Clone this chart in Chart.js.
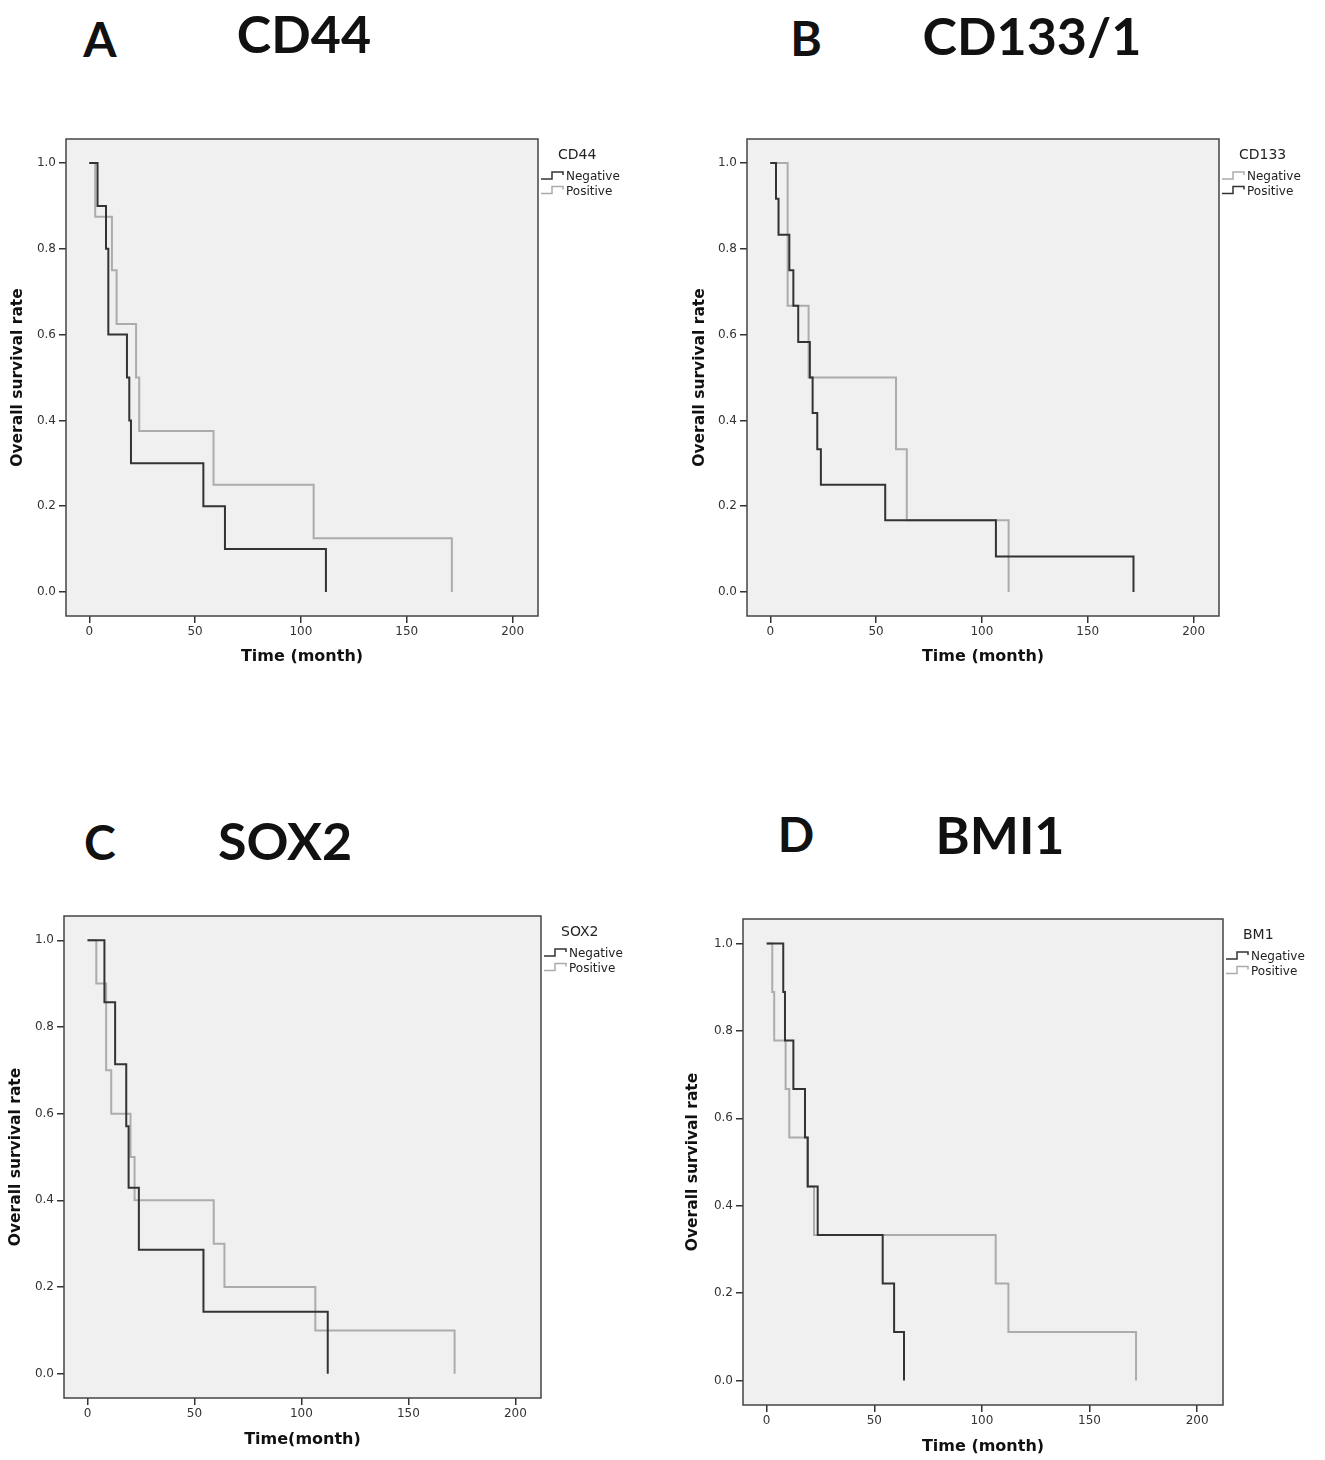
<!DOCTYPE html>
<html>
<head>
<meta charset="utf-8">
<script src="https://cdn.jsdelivr.net/npm/chart.js@4.4.1/dist/chart.umd.min.js"></script>
<style>
    body { margin: 0; background: #fff; }
    #page { position: relative; width: 1325px; height: 1460px; overflow: hidden; background: #fff; }
    .panel-canvas { position: absolute; }
    .heading {
        position: absolute;
        font-family: Lato, "Open Sans", sans-serif;
        font-weight: 700;
        color: #111;
        line-height: 1;
        white-space: nowrap;
        transform: translate(-50%, -50%);
    }
</style>
</head>
<body>
<div id="page">
    <div class="heading" style="left:100px; top:39px; font-size:48px;">A</div>
    <div class="heading" style="left:304px; top:33px; font-size:52px;">CD44</div>
    <div class="heading" style="left:806px; top:38px; font-size:48px;">B</div>
    <div class="heading" style="left:1032px; top:35px; font-size:52px;">CD133/1</div>
    <div class="heading" style="left:100px; top:842px; font-size:48px;">C</div>
    <div class="heading" style="left:285px; top:840px; font-size:52px;">SOX2</div>
    <div class="heading" style="left:796px; top:834px; font-size:48px;">D</div>
    <div class="heading" style="left:1000px; top:834px; font-size:52px;">BMI1</div>

    <canvas id="chartA" class="panel-canvas"></canvas>
    <canvas id="chartB" class="panel-canvas"></canvas>
    <canvas id="chartC" class="panel-canvas"></canvas>
    <canvas id="chartD" class="panel-canvas"></canvas>
</div>

<script>
// axis ticks shared by all four panels
const xTicks = [0, 50, 100, 150, 200];
const yTicks = [0, 0.2, 0.4, 0.6, 0.8, 1.0];
const X_MIN = -11, X_MAX = 212;
const Y_MIN = -0.056, Y_MAX = 1.056;

// A: CD44
const cd44NegTime = [0, 3.9, 7.9, 9.0, 17.8, 18.9, 19.7, 53.9, 64.1, 111.8];
const cd44NegSurv = [1, 0.9, 0.8, 0.6, 0.5, 0.4, 0.3, 0.2, 0.1, 0];
const cd44PosTime = [0, 2.8, 10.7, 12.9, 22.1, 23.6, 58.7, 106, 171.3];
const cd44PosSurv = [1, 0.875, 0.75, 0.625, 0.5, 0.375, 0.25, 0.125, 0];

// B: CD133
const cd133NegTime = [0, 8.2, 18.1, 59.4, 64.5, 112.6];
const cd133NegSurv = [1, 0.667, 0.5, 0.333, 0.167, 0];
const cd133PosTime = [0, 2.7, 3.9, 9.0, 10.9, 13.2, 18.7, 20, 22.2, 23.9, 54.3, 106.6, 171.6];
const cd133PosSurv = [1, 0.917, 0.833, 0.75, 0.667, 0.583, 0.5, 0.417, 0.333, 0.25, 0.167, 0.083, 0];

// C: SOX2
const sox2NegTime = [0, 7.9, 12.9, 18.1, 19.2, 24, 54.2, 112.3];
const sox2NegSurv = [1, 0.857, 0.714, 0.571, 0.429, 0.286, 0.143, 0];
const sox2PosTime = [0, 4.1, 8.7, 11.1, 20.1, 22, 59, 64, 106.5, 171.6];
const sox2PosSurv = [1, 0.9, 0.7, 0.6, 0.5, 0.4, 0.3, 0.2, 0.1, 0];

// D: BMI1
const bmi1NegTime = [0, 7.7, 8.5, 12.4, 17.8, 19.1, 23.7, 53.9, 59.2, 63.8];
const bmi1NegSurv = [1, 0.889, 0.778, 0.667, 0.556, 0.444, 0.333, 0.222, 0.111, 0];
const bmi1PosTime = [0, 2.6, 3.5, 8.8, 10.5, 18.9, 22, 106.4, 112.3, 171.6];
const bmi1PosSurv = [1, 0.889, 0.778, 0.667, 0.556, 0.444, 0.333, 0.222, 0.111, 0];

const DARK = '#333333';
const LIGHT = '#acacac';
const X_TITLE_SIZE = 16;
const Y_TITLE_SIZE = 15.5;

let survivalCharts = {};

// frame, background and SPSS-like legend
const kmFramePlugin = {
    id: 'kmFrame',
    beforeDatasetsDraw(chart) {
        const {ctx, chartArea: a} = chart;
        ctx.save();
        ctx.fillStyle = '#f0f0f0';
        ctx.fillRect(a.left, a.top, a.right - a.left, a.bottom - a.top);
        ctx.restore();
    },
    afterDraw(chart, args, opts) {
        const {ctx, chartArea: a} = chart;
        ctx.save();
        ctx.strokeStyle = '#444';
        ctx.lineWidth = 1.5;
        ctx.strokeRect(a.left, a.top, a.right - a.left, a.bottom - a.top);

        ctx.fillStyle = '#222';
        ctx.textBaseline = 'middle';
        ctx.textAlign = 'left';
        ctx.font = '14px "DejaVu Sans"';
        ctx.fillText(opts.title, a.right + 20, a.top + 16);

        chart.data.datasets.forEach((ds, i) => {
            const y = a.top + 38 + i * 14.5;
            const x = a.right + 3;
            ctx.strokeStyle = ds.borderColor;
            ctx.lineWidth = 1.5;
            ctx.beginPath();
            ctx.moveTo(x, y + 2);
            ctx.lineTo(x + 11, y + 2);
            ctx.lineTo(x + 11, y - 5);
            ctx.lineTo(x + 22, y - 5);
            ctx.lineTo(x + 22, y - 2);
            ctx.stroke();
            ctx.font = '12px "DejaVu Sans"';
            ctx.fillStyle = '#222';
            ctx.fillText(ds.label, x + 25, y);
        });
        ctx.restore();
    }
};

function layoutFor(p) {
    const c = p.canvas, b = p.box;
    const padLeft = p.yTitleX - Y_TITLE_SIZE * 1.2 / 2 - c.left;
    const xAxisHeight = p.xTitleY + X_TITLE_SIZE * 1.2 / 2 - b.bottom;
    return {
        padding: {
            left: padLeft,
            top: b.top - c.top,
            right: c.left + c.width - b.right,
            bottom: c.top + c.height - b.bottom - xAxisHeight
        },
        yAxisWidth: b.left - c.left - padLeft,
        xAxisHeight: xAxisHeight
    };
}

function buildSurvivalChart(p, legendTitle, xTitle, series) {
    const canvas = document.getElementById(p.id);
    canvas.width = p.canvas.width;
    canvas.height = p.canvas.height;
    canvas.style.left = p.canvas.left + 'px';
    canvas.style.top = p.canvas.top + 'px';

    const lay = layoutFor(p);
    const tickFont = {family: 'DejaVu Sans', size: 12};
    const titleFont = size => ({family: 'DejaVu Sans', size: size, weight: 'bold'});

    survivalCharts[p.id] = new Chart(canvas.getContext('2d'), {
        type: 'line',
        data: {
            datasets: series.map(s => ({
                label: s.label,
                data: s.time.map((t, i) => ({x: t, y: s.surv[i]})),
                borderColor: s.color,
                borderWidth: 2,
                pointRadius: 0,
                stepped: 'before',
                fill: false,
                order: s.color === DARK ? 0 : 1
            }))
        },
        options: {
            responsive: false,
            animation: false,
            devicePixelRatio: 1,
            layout: {padding: lay.padding},
            plugins: {
                legend: {display: false},
                tooltip: {enabled: false},
                kmFrame: {title: legendTitle}
            },
            scales: {
                x: {
                    type: 'linear',
                    min: X_MIN,
                    max: X_MAX,
                    afterBuildTicks: s => { s.ticks = xTicks.map(v => ({value: v})); },
                    afterFit: s => { s.height = lay.xAxisHeight; },
                    grid: {drawOnChartArea: false, drawTicks: true, tickLength: 7, color: '#333', lineWidth: 1.5},
                    border: {display: false},
                    ticks: {font: tickFont, color: '#333', padding: 2, autoSkip: false, maxRotation: 0},
                    title: {display: true, text: xTitle, font: titleFont(X_TITLE_SIZE), color: '#111', padding: 0}
                },
                y: {
                    type: 'linear',
                    min: Y_MIN,
                    max: Y_MAX,
                    afterBuildTicks: s => { s.ticks = yTicks.map(v => ({value: v})); },
                    afterFit: s => { s.width = lay.yAxisWidth; },
                    grid: {drawOnChartArea: false, drawTicks: true, tickLength: 7, color: '#333', lineWidth: 1.5},
                    border: {display: false},
                    ticks: {font: tickFont, color: '#333', padding: 3, autoSkip: false, callback: v => v.toFixed(1)},
                    title: {display: true, text: 'Overall survival rate', font: titleFont(Y_TITLE_SIZE), color: '#111', padding: 0}
                }
            }
        },
        plugins: [kmFramePlugin]
    });
}

document.addEventListener('DOMContentLoaded', function() {
    buildSurvivalChart(
        {id: 'chartA', canvas: {left: 0, top: 100, width: 662, height: 600},
         box: {left: 66, top: 139, right: 538, bottom: 616}, yTitleX: 18, xTitleY: 657},
        'CD44', 'Time (month)',
        [{label: 'Negative', time: cd44NegTime, surv: cd44NegSurv, color: DARK},
         {label: 'Positive', time: cd44PosTime, surv: cd44PosSurv, color: LIGHT}]);

    buildSurvivalChart(
        {id: 'chartB', canvas: {left: 662, top: 100, width: 663, height: 600},
         box: {left: 747, top: 139, right: 1219, bottom: 616}, yTitleX: 700, xTitleY: 657},
        'CD133', 'Time (month)',
        [{label: 'Negative', time: cd133NegTime, surv: cd133NegSurv, color: LIGHT},
         {label: 'Positive', time: cd133PosTime, surv: cd133PosSurv, color: DARK}]);

    buildSurvivalChart(
        {id: 'chartC', canvas: {left: 0, top: 880, width: 662, height: 580},
         box: {left: 64, top: 916, right: 541, bottom: 1398}, yTitleX: 16, xTitleY: 1440},
        'SOX2', 'Time(month)',
        [{label: 'Negative', time: sox2NegTime, surv: sox2NegSurv, color: DARK},
         {label: 'Positive', time: sox2PosTime, surv: sox2PosSurv, color: LIGHT}]);

    buildSurvivalChart(
        {id: 'chartD', canvas: {left: 662, top: 880, width: 663, height: 580},
         box: {left: 743, top: 919, right: 1223, bottom: 1405}, yTitleX: 693, xTitleY: 1447},
        'BM1', 'Time (month)',
        [{label: 'Negative', time: bmi1NegTime, surv: bmi1NegSurv, color: DARK},
         {label: 'Positive', time: bmi1PosTime, surv: bmi1PosSurv, color: LIGHT}]);
});
</script>
</body>
</html>
